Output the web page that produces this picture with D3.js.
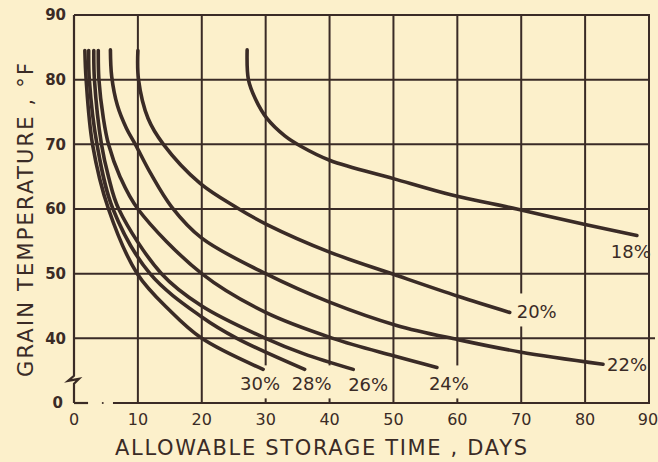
<!DOCTYPE html>
<html><head><meta charset="utf-8">
<script src="https://cdn.jsdelivr.net/npm/d3@7/dist/d3.min.js"></script>
<style>html,body{margin:0;padding:0;background:#fcf0cb;}svg{display:block}</style>
</head><body><svg id="c" width="658" height="462"></svg>
<script>
// ---- data ----
const dayTicks = [0, 10, 20, 30, 40, 50, 60, 70, 80, 90];
const tempTicks = [0, 40, 50, 60, 70, 80, 90];
const gridTemps = [40, 50, 60, 70, 80, 90];
const moisture = ["18%", "20%", "22%", "24%", "26%", "28%", "30%"];
// [days, °F]
const curve18 = [[27.1,84.6],[27.3,80],[28.4,77],[30.2,74],[33,71.3],[35.5,69.7],[40.1,67.5],[50,64.7],[59,62.2],[69.3,60],[80,57.6],[88.1,55.9]];
const curve20 = [[10.0,84.5],[10.1,80],[11.6,74],[14.0,70],[19.7,64],[25.5,60.2],[30.2,57.6],[40.1,53.3],[50.0,49.9],[60.1,46.5],[68.2,44.0]];
const curve22 = [[5.7,84.6],[5.9,80.5],[6.8,76],[8.2,72.5],[9.6,70],[12,65.5],[15.3,60.3],[20,55.5],[30,50],[40,45.6],[50.5,42.0],[60.1,39.8],[69.8,37.9],[82.8,36.0]];
const curve24 = [[3.8,84.5],[3.9,80],[4.6,74],[5.4,70],[7.2,65],[10,60],[20,50],[30,44],[40.5,40],[50,37.3],[56.8,35.5]];
const curve26 = [[3.1,84.5],[3.2,80],[4.3,70],[5.4,65],[7.0,60],[13.7,50],[20,45],[30,40],[36,37.6],[43.7,35.2]];
const curve28 = [[2.3,84.5],[2.4,80],[3.6,70],[6.1,60],[11.9,50],[20,43.3],[25.5,40],[36.1,35.2]];
const curve30 = [[1.7,84.5],[1.9,80],[2.9,70],[5.4,60],[9.9,50],[15,44.3],[20,40],[29.6,35.2]];
const curves = [curve18, curve20, curve22, curve24, curve26, curve28, curve30];

// ---- layout / style ----
const ink = "#3a2b26", bg = "#fcf0cb";
const font = "'DejaVu Sans', sans-serif";
const svg = d3.select("#c");
svg.append("rect").attr("width",658).attr("height",462).attr("fill",bg);

const x = d3.scaleLinear().domain([0, 90]).range([74, 649]);
// broken axis: the bottom of the plot (labelled 0) stands for 30 °F
const y = d3.scaleLinear().domain([30, 90]).range([403, 15]);
const yTick = d => d === 0 ? y(30) : y(d);

// vertical grid lines
svg.append("g").selectAll("line").data(dayTicks.slice(1)).join("line")
  .attr("x1", d => x(d)).attr("x2", d => x(d))
  .attr("y1", y(90)).attr("y2", y(30))
  .attr("stroke", ink).attr("stroke-width", 2);
// horizontal grid lines
svg.append("g").selectAll("line").data(gridTemps).join("line")
  .attr("x1", x(0)).attr("x2", d => d === 40 ? x(90) + 6 : x(90) + 1)
  .attr("y1", d => y(d)).attr("y2", d => y(d))
  .attr("stroke", ink).attr("stroke-width", 2);
// bottom axis (with small print gap)
svg.append("line").attr("x1", x(0)).attr("x2", x(2.2)).attr("y1", y(30)).attr("y2", y(30))
  .attr("stroke", ink).attr("stroke-width", 2.2);
svg.append("line").attr("x1", x(6.1)).attr("x2", x(90) + 1).attr("y1", y(30)).attr("y2", y(30))
  .attr("stroke", ink).attr("stroke-width", 2.2);
svg.append("circle").attr("cx", x(4.5)).attr("cy", y(30)).attr("r", 1).attr("fill", ink);
// left axis with break
const yb1 = y(34.2), yb2 = y(33);
svg.append("path")
  .attr("d", `M${x(0)},${y(90)}V${yb1}L${x(0)-6},${yb1+5}L${x(0)+5},${yb1+3}L${x(0)},${yb2}V${y(30)}`)
  .attr("fill", "none").attr("stroke", ink).attr("stroke-width", 2.2).attr("stroke-linejoin","miter");

// y tick labels
svg.append("g").selectAll("text").data(tempTicks).join("text")
  .attr("x", d => d === 0 ? 63 : 66).attr("y", d => yTick(d)).attr("dy", "0.36em")
  .attr("text-anchor", "end").attr("font-family", font).attr("font-weight", "bold")
  .attr("font-size", 15).attr("fill", ink).text(d => d);
// x tick labels
svg.append("g").selectAll("text").data(dayTicks).join("text")
  .attr("x", d => x(d) + (d === 90 ? -1 : 0)).attr("y", 425)
  .attr("text-anchor", "middle").attr("font-family", font)
  .attr("font-size", 16).attr("fill", ink).text(d => d);

// curve labels (with knock-out of grid behind them)
const labelOffsets = {"18%":[-6,22,"middle"],"20%":[7,6,"start"],"22%":[4,7,"start"],
  "24%":[12,23,"middle"],"26%":[15,22,"middle"],"28%":[7,21,"middle"],"30%":[-3,21,"middle"]};
const lg = svg.append("g");
moisture.forEach((m, i) => {
  const c = curves[i], e = c[c.length - 1];
  const o = labelOffsets[m];
  const t = lg.append("text").attr("x", x(e[0]) + o[0]).attr("y", y(e[1]) + o[1])
    .attr("text-anchor", o[2]).attr("font-family", font).attr("font-size", 18)
    .attr("fill", ink).text(m);
  const b = t.node().getBBox();
  if (m !== "18%" && m !== "22%") {
    lg.insert("rect", "text").attr("x", b.x - 1).attr("y", b.y - 8)
      .attr("width", b.width + 2).attr("height", b.height + 12).attr("fill", bg);
  }
});

// curves
const line = d3.line().x(d => x(d[0])).y(d => y(d[1])).curve(d3.curveCatmullRom.alpha(0.5));
svg.append("g").selectAll("path").data(curves).join("path")
  .attr("d", line).attr("fill", "none").attr("stroke", ink)
  .attr("stroke-width", 3.6).attr("stroke-linecap", "round");

// axis titles
svg.append("text").attr("x", 115).attr("y", 455)
  .attr("font-family", font).attr("font-size", 21).attr("fill", ink)
  .attr("textLength", 412).attr("lengthAdjust", "spacing")
  .text("ALLOWABLE  STORAGE  TIME ,  DAYS");
svg.append("text").attr("transform", "translate(33,377) rotate(-90)")
  .attr("font-family", font).attr("font-size", 21).attr("fill", ink)
  .attr("textLength", 314).attr("lengthAdjust", "spacing")
  .text("GRAIN  TEMPERATURE ,  °F");
</script></body></html>
